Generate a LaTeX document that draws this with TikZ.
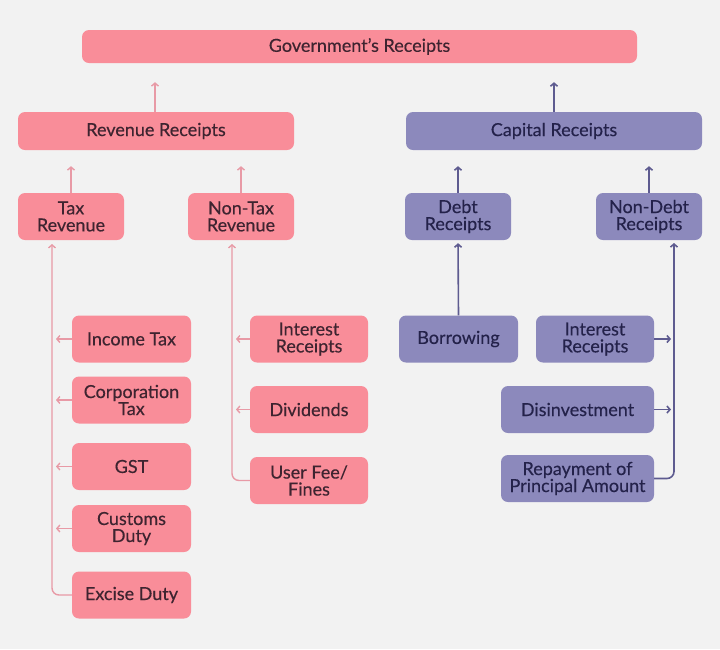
\documentclass[tikz,border=0pt]{standalone}
\usepackage{fontspec}
\setmainfont{Lato}
\newfontfamily\boxfont{Lato}[Ligatures=TeX,FakeBold=0.35]
\usetikzlibrary{arrows.meta}
\definecolor{bg}{HTML}{F2F2F2}
\definecolor{pinkbox}{HTML}{F98D99}
\definecolor{pinkline}{HTML}{E89AA6}
\definecolor{pinktext}{HTML}{3E2430}
\definecolor{purpbox}{HTML}{8C89BC}
\definecolor{purpline}{HTML}{5E5B90}
\definecolor{purptext}{HTML}{24224A}
\tikzset{
  box/.style={rounded corners=7pt, inner sep=0pt, align=center,
    font=\boxfont\fontsize{18}{17}\selectfont},
  pbox/.style={box, fill=pinkbox, text=pinktext},
  vbox/.style={box, fill=purpbox, text=purptext},
  pline/.style={draw=pinkline, line width=1.4pt, -{Straight Barb[length=3pt,width=7pt]}},
  vline/.style={draw=purpline, line width=1.6pt, -{Straight Barb[length=3pt,width=7pt]}},
}
\begin{document}
\begin{tikzpicture}[x=1pt,y=-1pt]
\fill[bg] (0,0) rectangle (720,649);
\useasboundingbox (0,0) rectangle (720,649);

\node[pbox, minimum width=555pt, minimum height=33pt] (gov) at (359.5,46.5) {Government’s Receipts};
\node[pbox, minimum width=276pt, minimum height=38pt] (rev) at (156,131) {Revenue Receipts};
\node[vbox, minimum width=296pt, minimum height=38pt] (cap) at (554,131) {Capital Receipts};

\node[pbox, minimum width=106pt, minimum height=47pt] (tax) at (71,216.5) {Tax\\Revenue};
\node[pbox, minimum width=106pt, minimum height=47pt] (ntax) at (241,216.5) {Non-Tax\\Revenue};
\node[vbox, minimum width=106pt, minimum height=47pt] (debt) at (458,216.5) {Debt\\Receipts};
\node[vbox, minimum width=106pt, minimum height=47pt] (ndebt) at (649,216.5) {Non-Debt\\Receipts};

\tikzset{tbox/.style={pbox, minimum width=119pt, minimum height=47pt}}
\node[tbox] (inc) at (131.5,339) {Income Tax};
\node[tbox] (corp) at (131.5,400) {Corporation\\Tax};
\node[tbox] (gst) at (131.5,466.5) {GST};
\node[tbox] (cust) at (131.5,528.5) {Customs\\Duty};
\node[tbox] (exc) at (131.5,595) {Excise Duty};

\tikzset{nbox/.style={pbox, minimum width=118pt, minimum height=47pt}}
\node[nbox] (int1) at (309,339) {Interest\\Receipts};
\node[nbox] (div) at (309,409.5) {Dividends};
\node[nbox] (fee) at (309,480.5) {User Fee/\\Fines};

\node[vbox, minimum width=119pt, minimum height=47pt] (borrow) at (458.5,339) {Borrowing};
\node[vbox, minimum width=118pt, minimum height=47pt] (int2) at (595,339) {Interest\\Receipts};
\node[vbox, minimum width=153pt, minimum height=47pt] (dis) at (577.5,409.5) {Disinvestment};
\node[vbox, minimum width=153pt, minimum height=47pt] (rep) at (577.5,478.5) {Repayment of\\Principal Amount};

% upper arrows
\draw[pline, shorten >=19pt] ([xshift=-1pt]rev.north) -- ([xshift=-1pt]rev.north |- gov.south);
\draw[vline, shorten >=19pt] (cap.north) -- (cap.north |- gov.south);
\draw[pline, shorten >=16pt] (tax.north) -- (tax.north |- rev.south);
\draw[pline, shorten >=16pt] (ntax.north) -- (ntax.north |- rev.south);
\draw[vline, shorten >=16pt] (debt.north) -- (debt.north |- cap.south);
\draw[vline, shorten >=16pt] (ndebt.north) -- (ndebt.north |- cap.south);

% buses
\coordinate (taxbus) at (52,240);
\coordinate (ntaxbus) at (232,240);
\coordinate (ndbus) at (674,240);

\draw[pline, rounded corners=7pt, shorten >=4pt] (exc.west) -| (taxbus);
\foreach \n in {inc,corp,gst,cust}
  \draw[pline, shorten >=4pt] (\n.west) -- (\n.west -| taxbus);

\draw[pline, rounded corners=7pt, shorten >=4pt] (fee.west) -| (ntaxbus);
\foreach \n in {int1,div}
  \draw[pline, shorten >=4pt] (\n.west) -- (\n.west -| ntaxbus);

\draw[vline, shorten >=3pt] (borrow.north) -- (debt.south);

\draw[vline, rounded corners=7pt, shorten >=3pt] (rep.east) -| (ndbus);
\foreach \n in {int2,dis}
  \draw[vline, shorten >=3pt] (\n.east) -- (\n.east -| ndbus);
\end{tikzpicture}
\end{document}
